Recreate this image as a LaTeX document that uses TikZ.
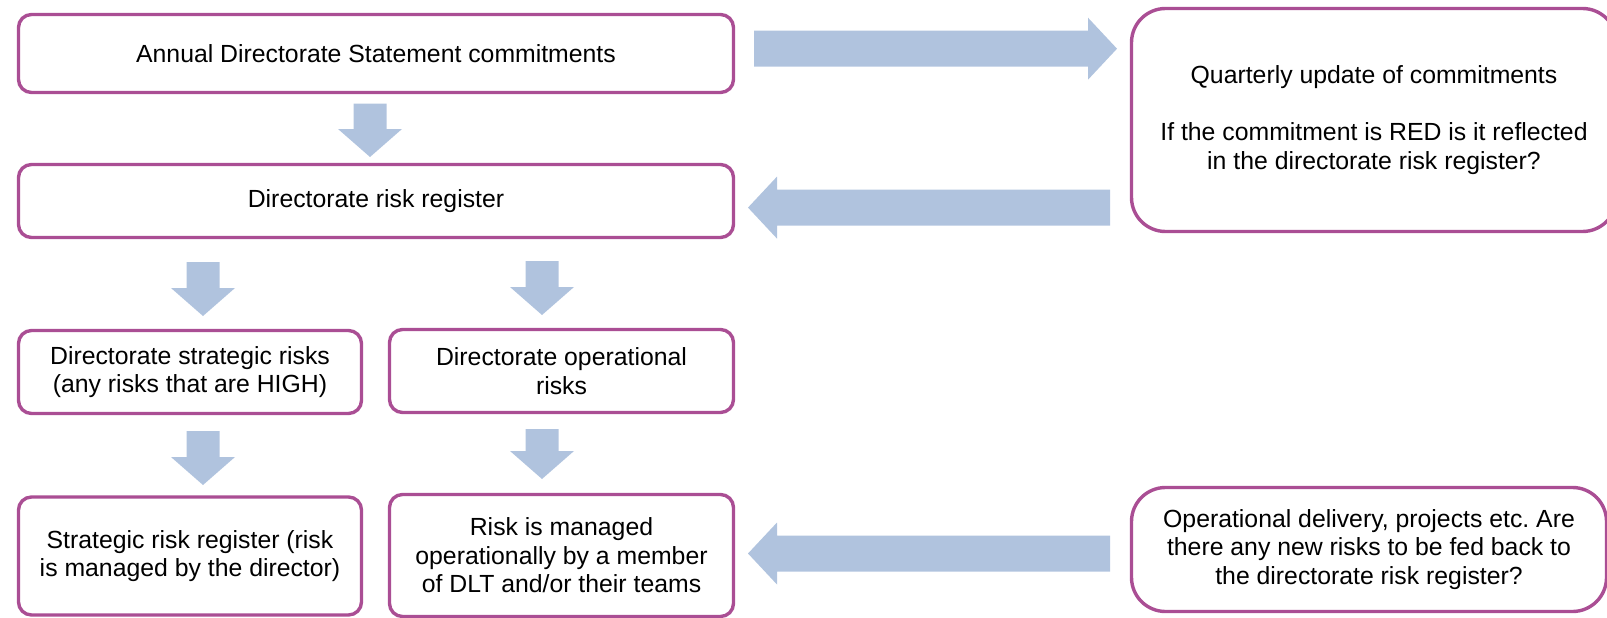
\documentclass[tikz,border=0pt]{standalone}
\usepackage{fontspec}
\setmainfont{Liberation Sans}
\frenchspacing
\definecolor{boxline}{RGB}{170,78,148}
\definecolor{arrowfill}{RGB}{176,195,222}
\newcommand\darr[3]{% cx, top, tip
  \fill[arrowfill] ({#1-16.5},#2) -- ({#1+16.5},#2) -- ({#1+16.5},{#3-28}) -- ({#1+32},{#3-28}) -- (#1,#3) -- ({#1-32},{#3-28}) -- ({#1-16.5},{#3-28}) -- cycle;}
\newcommand\rarr[3]{% xstart, xtip, cy
  \fill[arrowfill] (#1,{#3-18}) -- ({#2-29},{#3-18}) -- ({#2-29},{#3-31}) -- (#2,#3) -- ({#2-29},{#3+31}) -- ({#2-29},{#3+18}) -- (#1,{#3+18}) -- cycle;}
\newcommand\larr[3]{% xstart(right), xtip, cy
  \fill[arrowfill] (#1,{#3-18}) -- ({#2+29},{#3-18}) -- ({#2+29},{#3-31}) -- (#2,#3) -- ({#2+29},{#3+31}) -- ({#2+29},{#3+18}) -- (#1,{#3+18}) -- cycle;}
\begin{document}
\begin{tikzpicture}[x=1pt,y=-1pt,
  box/.style={draw=boxline, line width=3.4pt, rounded corners=13pt, fill=white,
    align=center, font=\fontsize{24.8}{28.5}\selectfont, inner sep=0pt},
  bigbox/.style={box, rounded corners=34pt}]
\useasboundingbox (0,0) rectangle (1607,618);
\clip (0,0) rectangle (1607,618);

\node[box, minimum width=715pt, minimum height=78pt] (b1) at (376,53.5) {Annual Directorate Statement commitments};
\node[box, minimum width=715pt, minimum height=73pt] (b2) at (376,201) {Directorate risk register};
\node[bigbox, minimum width=485pt, minimum height=223pt] (q) at (1374,120)
  {Quarterly update of commitments\\[28.5pt]If the commitment is RED is it reflected\\in the directorate risk register?};
\node[box, minimum width=343pt, minimum height=83pt] (s1) at (190,372) {Directorate strategic risks\\(any risks that are HIGH)};
\node[box, minimum width=344pt, minimum height=83pt] (o1) at (561.5,371) {Directorate operational\\risks};
\node[box, minimum width=343pt, minimum height=118pt] (s2) at (190,556) {Strategic risk register (risk\\is managed by the director)};
\node[box, minimum width=344pt, minimum height=122pt] (o2) at (561.5,555.5) {Risk is managed\\operationally by a member\\of DLT and/or their teams};
\node[bigbox, minimum width=475pt, minimum height=124pt] (d) at (1369,549.5)
  {Operational delivery, projects etc. Are\\there any new risks to be fed back to\\the directorate risk register?};

\rarr{754}{1117}{48.7}
\larr{1110}{748}{207.6}
\larr{1110}{748}{553.5}
\darr{370}{103.5}{157}
\darr{203}{262}{316}
\darr{542}{261}{315}
\darr{203}{431}{485}
\darr{542}{429}{479}
\end{tikzpicture}
\end{document}
